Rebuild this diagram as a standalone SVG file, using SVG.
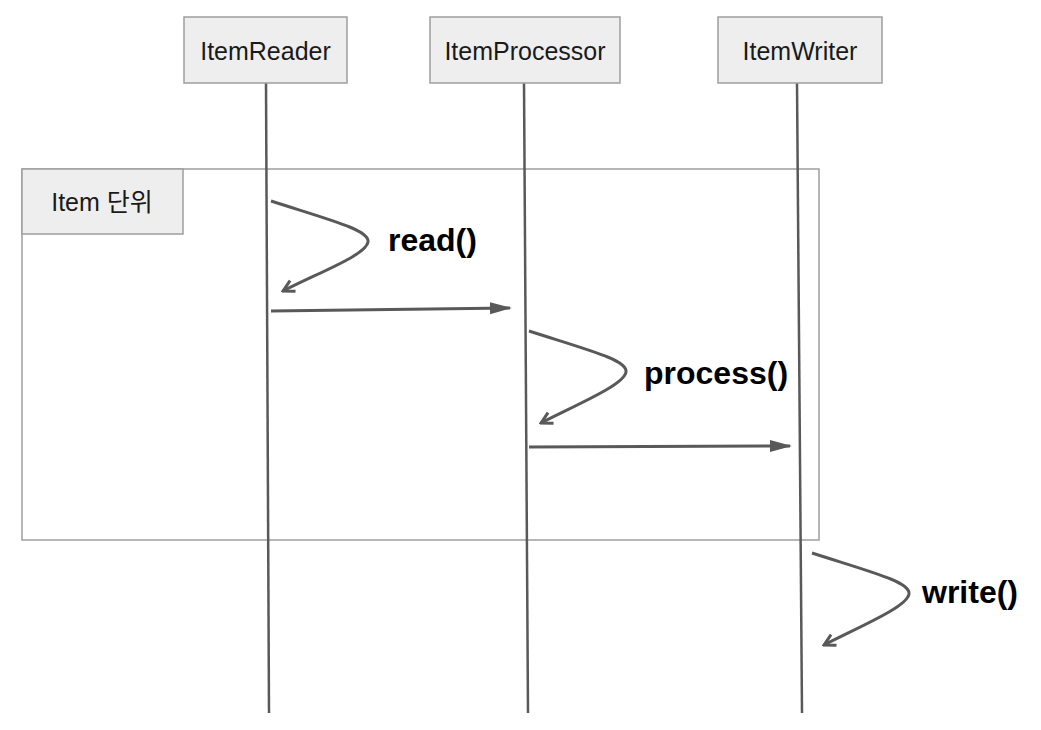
<svg xmlns="http://www.w3.org/2000/svg" width="1041" height="730" viewBox="0 0 1041 730">
  <style>
    .box { fill: #eeeeee; stroke: #9e9e9e; stroke-width: 1.5; }
    .frame { fill: none; stroke: #9e9e9e; stroke-width: 1.5; }
    .life { stroke: #595959; stroke-width: 2.5; fill: none; }
    .msg { stroke: #595959; stroke-width: 3; fill: none; }
    .name { font-family: "Liberation Sans", Arial, sans-serif; font-size: 25px; fill: #1a1a1a; text-anchor: middle; }
    .call { font-family: "Liberation Sans", Arial, sans-serif; font-size: 32px; font-weight: bold; fill: #000; }
  </style>
  <defs>
    <!-- open chevron head for self-calls -->
    <marker id="open" markerWidth="16" markerHeight="16" refX="14" refY="8" orient="auto" markerUnits="userSpaceOnUse" viewBox="0 0 16 16">
      <path d="M3,2 L14,8 L3,14" fill="none" stroke="#595959" stroke-width="3" stroke-linejoin="miter"/>
    </marker>
    <!-- filled head for synchronous messages -->
    <marker id="solid" markerWidth="22" markerHeight="14" refX="20" refY="7" orient="auto" markerUnits="userSpaceOnUse" viewBox="0 0 22 14">
      <path d="M0,1 L22,7 L0,13 Z" fill="#595959"/>
    </marker>
  </defs>

  <!-- loop frame for per-item processing -->
  <g id="frame-item">
    <rect class="frame" x="22" y="169" width="797" height="371"/>
    <rect class="box" x="22" y="169" width="161" height="65"/>
    <text class="name" x="102" y="211" style="font-family: 'Liberation Sans', 'Noto Sans CJK KR', sans-serif;">Item 단위</text>
  </g>

  <!-- lifelines -->
  <g id="lifelines">
    <line class="life" x1="266" y1="83" x2="269" y2="713"/>
    <line class="life" x1="524" y1="83" x2="528" y2="713"/>
    <line class="life" x1="797" y1="83" x2="802" y2="713"/>
  </g>

  <g id="node-reader">
    <rect class="box" x="184" y="17" width="163" height="66"/>
    <text class="name" x="265.5" y="60">ItemReader</text>
  </g>
  <g id="node-processor">
    <rect class="box" x="430" y="17" width="190" height="66"/>
    <text class="name" x="525" y="60">ItemProcessor</text>
  </g>
  <g id="node-writer">
    <rect class="box" x="718" y="17" width="164" height="66"/>
    <text class="name" x="800" y="60">ItemWriter</text>
  </g>

  <!-- messages -->
  <g id="connectors">
    <path class="msg" d="M271,201 C330,220 370,230 368,242 C366,255 320,272 283,291" marker-end="url(#open)"/>
    <line class="msg" x1="271" y1="311" x2="510" y2="308" marker-end="url(#solid)"/>
    <path class="msg" d="M529,331 C588,350 628,360 626,372 C624,385 578,404 541,423" marker-end="url(#open)"/>
    <line class="msg" x1="529" y1="447" x2="790" y2="446" marker-end="url(#solid)"/>
    <path class="msg" d="M812,553 C871,572 911,582 909,594 C907,607 861,626 824,645" marker-end="url(#open)"/>
  </g>

  <g id="labels">
    <text class="call" x="388" y="251">read()</text>
    <text class="call" x="644" y="384">process()</text>
    <text class="call" x="922" y="603">write()</text>
  </g>
</svg>
